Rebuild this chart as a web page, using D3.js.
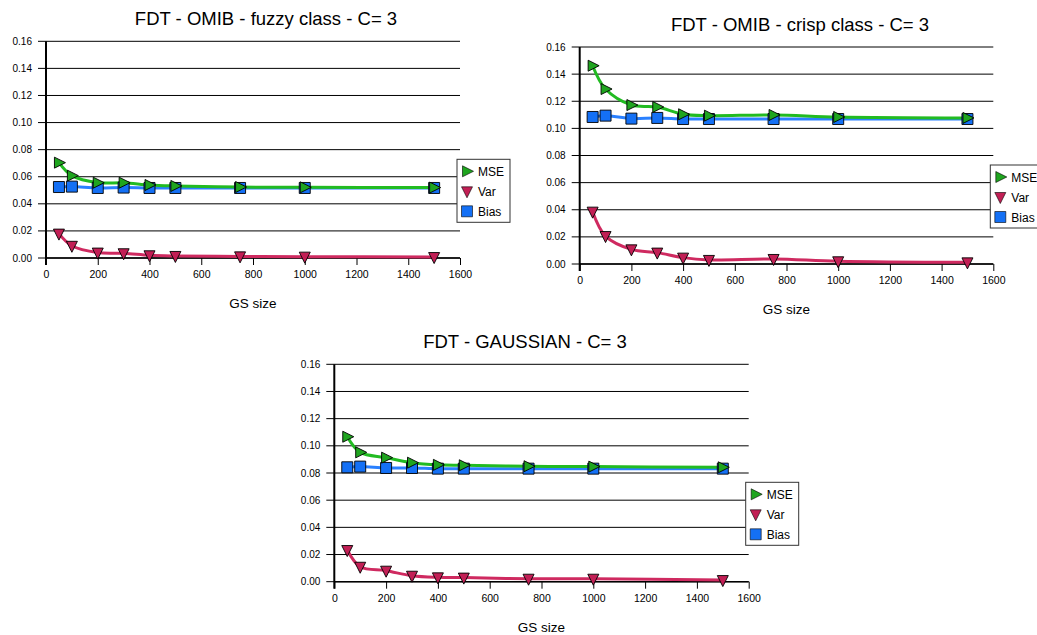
<!DOCTYPE html>
<html>
<head>
<meta charset="utf-8">
<script src="https://cdn.jsdelivr.net/npm/d3@7"></script>
<style>
  html, body { margin: 0; padding: 0; background: #fff; }
  svg { display: block; font-family: "Liberation Sans", Arial, sans-serif; }
</style>
</head>
<body>
<svg id="chart" width="1037" height="635"></svg>
<script>
// GS sizes (x values shared by every panel)
const gsSizes = [50, 100, 200, 300, 400, 500, 750, 1000, 1500];
const xTicks = [0, 200, 400, 600, 800, 1000, 1200, 1400, 1600];
const yTicks = [0, 0.02, 0.04, 0.06, 0.08, 0.10, 0.12, 0.14, 0.16];
const seriesNames = ["MSE", "Var", "Bias"];

// FDT - OMIB - fuzzy class
const fuzzyMSE  = [0.0704, 0.0608, 0.0556, 0.0556, 0.0539, 0.0532, 0.0524, 0.0522, 0.0520];
const fuzzyVar  = [0.0180, 0.0090, 0.0040, 0.0035, 0.0020, 0.0015, 0.0012, 0.0010, 0.0007];
const fuzzyBias = [0.0524, 0.0527, 0.0517, 0.0520, 0.0517, 0.0517, 0.0517, 0.0517, 0.0517];

// FDT - OMIB - crisp class
const crispMSE  = [0.1462, 0.1290, 0.1172, 0.1158, 0.1104, 0.1094, 0.1099, 0.1084, 0.1077];
const crispVar  = [0.0386, 0.0206, 0.0108, 0.0084, 0.0047, 0.0030, 0.0037, 0.0020, 0.0012];
const crispBias = [0.1084, 0.1094, 0.1072, 0.1077, 0.1069, 0.1069, 0.1069, 0.1069, 0.1069];

// FDT - GAUSSIAN
const gaussMSE  = [0.1067, 0.0952, 0.0913, 0.0876, 0.0860, 0.0857, 0.0850, 0.0847, 0.0842];
const gaussVar  = [0.0233, 0.0110, 0.0081, 0.0044, 0.0032, 0.0030, 0.0022, 0.0022, 0.0012];
const gaussBias = [0.0842, 0.0847, 0.0837, 0.0837, 0.0832, 0.0832, 0.0832, 0.0832, 0.0832];

const colors = {
  MSE:  { fill: "#1fa51f", line: "#22bb22" },
  Var:  { fill: "#c21f55", line: "#cf2a60" },
  Bias: { fill: "#1470f5", line: "#2a80ff" }
};

const panels = [
  { title: "FDT - OMIB - fuzzy class - C= 3", titleX: 266, x0: 46, x1: 460, yTop: 41.3, yBot: 258,
    MSE: fuzzyMSE, Var: fuzzyVar, Bias: fuzzyBias },
  { title: "FDT - OMIB - crisp class - C= 3", titleX: 800, x0: 579.7, x1: 993.3, yTop: 47, yBot: 264,
    MSE: crispMSE, Var: crispVar, Bias: crispBias },
  { title: "FDT - GAUSSIAN - C= 3", titleX: 525, x0: 334.3, x1: 748.7, yTop: 364.3, yBot: 581.7,
    MSE: gaussMSE, Var: gaussVar, Bias: gaussBias }
];

const svg = d3.select("#chart");

const tri = 11;
function markerPath(name) {
  const h = tri / 2;
  if (name === "MSE") return `M${-h + 1},${-h} L${h + 1},0 L${-h + 1},${h} Z`;
  if (name === "Var") return `M${-h},${-h + 1} L${h},${-h + 1} L0,${h + 1} Z`;
  return `M${-h},${-h} H${h} V${h} H${-h} Z`;
}

panels.forEach(p => {
  const g = svg.append("g");
  const x = d3.scaleLinear().domain([0, 1600]).range([p.x0, p.x1]);
  const y = d3.scaleLinear().domain([0, 0.16]).range([p.yBot, p.yTop]);

  // horizontal grid lines, extended left past the axis as tick marks
  g.append("g").selectAll("line").data(yTicks).join("line")
    .attr("x1", p.x0 - 8).attr("x2", p.x1)
    .attr("y1", d => y(d)).attr("y2", d => y(d))
    .attr("stroke", "#000").attr("stroke-width", 1);

  // y tick labels
  g.append("g").selectAll("text").data(yTicks).join("text")
    .attr("x", p.x0 - 14).attr("y", d => y(d) + 3.5)
    .attr("text-anchor", "end").attr("font-size", 10)
    .text(d => d3.format(".2f")(d));

  // x axis
  const xAxis = d3.axisBottom(x).tickValues(xTicks).tickSize(7).tickPadding(6).tickFormat(d3.format("d"));
  const ax = g.append("g").attr("transform", `translate(0,${p.yBot})`).call(xAxis);
  ax.select(".domain").attr("stroke", "#000").attr("stroke-width", 1.5).attr("d", `M${p.x0},0H${p.x1}`);
  ax.selectAll(".tick line").attr("stroke", "#000");
  ax.selectAll(".tick text").attr("font-size", 10.5).attr("font-family", "Liberation Sans, Arial, sans-serif").attr("fill", "#000");

  // y axis line
  g.append("line").attr("x1", p.x0).attr("x2", p.x0).attr("y1", p.yTop).attr("y2", p.yBot + 7)
    .attr("stroke", "#000").attr("stroke-width", 2);

  // titles
  g.append("text").attr("x", p.titleX).attr("y", p.yTop - 16)
    .attr("text-anchor", "middle").attr("font-size", 18.5).text(p.title);
  g.append("text").attr("x", (p.x0 + p.x1) / 2).attr("y", p.yBot + 50)
    .attr("text-anchor", "middle").attr("font-size", 13.5).text("GS size");

  // series: lines first, then markers
  const order = ["Bias", "Var", "MSE"];
  const line = d3.line().x((d, i) => x(gsSizes[i])).y(d => y(d)).curve(d3.curveCatmullRom.alpha(0.5));
  order.forEach(name => {
    g.append("path").attr("d", line(p[name])).attr("fill", "none")
      .attr("stroke", colors[name].line).attr("stroke-width", 3).attr("stroke-linejoin", "round");
  });
  order.forEach(name => {
    g.append("g").selectAll("path").data(p[name]).join("path")
      .attr("transform", (d, i) => `translate(${x(gsSizes[i])},${y(d)})`)
      .attr("d", markerPath(name))
      .attr("fill", colors[name].fill).attr("stroke", "#000").attr("stroke-width", 0.9);
  });

  // legend
  const lx = p.x1 - 3, ly = p.yTop + 118;
  const lg = g.append("g").attr("transform", `translate(${lx},${ly})`);
  lg.append("rect").attr("x", 0).attr("y", 0).attr("width", 53).attr("height", 63)
    .attr("fill", "#fff").attr("stroke", "#333").attr("stroke-width", 1);
  seriesNames.forEach((name, i) => {
    const cy = 12 + i * 20;
    lg.append("path").attr("transform", `translate(10,${cy})`).attr("d", markerPath(name))
      .attr("fill", colors[name].fill).attr("stroke", "#000").attr("stroke-width", 0.6);
    lg.append("text").attr("x", 21).attr("y", cy + 4.5).attr("font-size", 12).text(name);
  });
});
</script>
</body>
</html>
